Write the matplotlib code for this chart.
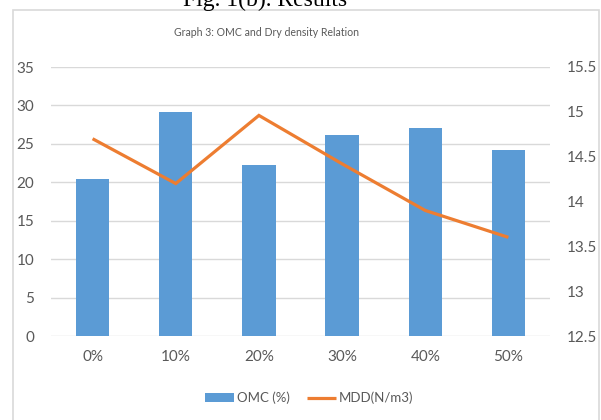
import matplotlib.pyplot as plt
from matplotlib.patches import Rectangle
import numpy as np

# data
categories = ["0%", "10%", "20%", "30%", "40%", "50%"]
omc = [20.4, 29.1, 22.2, 26.1, 27.1, 24.2]
mdd = [14.7, 14.2, 14.96, 14.42, 13.9, 13.6]

font = "Lato"
gray = "#595959"
blue = "#5B9BD5"
orange = "#ED7D31"

fig = plt.figure(figsize=(6.01, 4.2), dpi=100)

# outer chart border (bottom edge runs off the image)
fig.patches.append(Rectangle((12.5 / 601, -0.05), 586 / 601, (410 / 420) + 0.05,
                             transform=fig.transFigure, fill=False,
                             edgecolor="#d9d9d9", linewidth=1.2))

# cut-off caption above the chart
fig.text(265 / 601, 1 - 6 / 420, "Fig. 1(b). Results", family="Liberation Serif",
         fontsize=17, ha="center", va="baseline")

ax = fig.add_axes([51 / 601, 84 / 420, 499 / 601, 269 / 420])
x = np.arange(len(categories))

ax.bar(x, omc, width=0.4, color=blue, label="OMC (%)", zorder=2)
ax.set_xlim(-0.5, 5.5)
ax.set_ylim(0, 35)
ax.set_yticks(range(0, 36, 5))
ax.grid(axis="y", color="#d9d9d9", linewidth=1, zorder=0)
ax.set_xticks(x)
ax.set_xticklabels(categories)
for s in ax.spines.values():
    s.set_visible(False)
ax.tick_params(length=0, labelsize=11, labelcolor=gray, pad=10)
ax.tick_params(axis="y", pad=12)

ax2 = ax.twinx()
ax2.plot(x, mdd, color=orange, linewidth=2.3, label="MDD(N/m3)",
         solid_capstyle="butt", solid_joinstyle="miter")
ax2.set_ylim(12.5, 15.5)
ax2.set_yticks([12.5, 13, 13.5, 14, 14.5, 15, 15.5])
ax2.set_yticklabels(["12.5", "13", "13.5", "14", "14.5", "15", "15.5"])
for s in ax2.spines.values():
    s.set_visible(False)
ax2.tick_params(length=0, labelsize=11, labelcolor=gray, pad=12)

for lab in ax.get_xticklabels() + ax.get_yticklabels() + ax2.get_yticklabels():
    lab.set_family(font)

fig.text(266 / 601, 1 - 33 / 420, "Graph 3: OMC and Dry density Relation",
         family=font, fontsize=7.6, color=gray, ha="center", va="center")

h1, l1 = ax.get_legend_handles_labels()
h2, l2 = ax2.get_legend_handles_labels()
fig.legend(h1 + h2, l1 + l2, loc="center", bbox_to_anchor=(309 / 601, 1 - 398 / 420),
           ncol=2, frameon=False, prop={"family": font, "size": 9.5},
           labelcolor=gray, handlelength=2.2, handletextpad=0.2, columnspacing=1.3)

fig.savefig("out.png", dpi=100)
